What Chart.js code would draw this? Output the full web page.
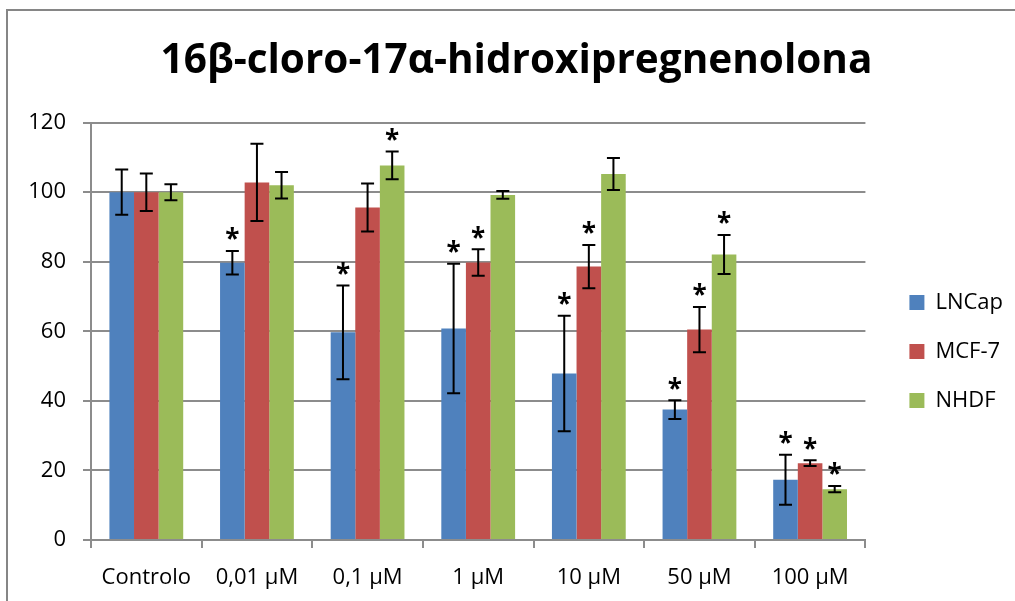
<!DOCTYPE html>
<html lang="es">
<head>
    <meta charset="UTF-8">
    <title>16β-cloro-17α-hidroxipregnenolona</title>
    <script src="https://cdn.jsdelivr.net/npm/chart.js"></script>
    <style>
        html, body {
            margin: 0;
            background: #fff;
            overflow: hidden;
        }

        canvas {
            display: block;
        }
    </style>
</head>
<body>

    <canvas id="grafico" width="1015" height="601"></canvas>

    <script>
        const categorias = ['Controlo', '0,01 µM', '0,1 µM', '1 µM', '10 µM', '50 µM', '100 µM'];

        const lncap = [100, 79.7, 59.7, 60.8, 47.9, 37.5, 17.3];
        const lncapErr = [6.5, 3.4, 13.5, 18.6, 16.6, 2.7, 7.2];
        const lncapSig = [0, 1, 1, 1, 1, 1, 1];

        const mcf7 = [100, 102.8, 95.6, 79.8, 78.6, 60.5, 22.1];
        const mcf7Err = [5.4, 11.1, 6.9, 3.8, 6.2, 6.5, 0.8];
        const mcf7Sig = [0, 0, 0, 1, 1, 1, 1];

        const nhdf = [100, 102.0, 107.7, 99.2, 105.2, 82.1, 14.6];
        const nhdfErr = [2.3, 3.8, 4.0, 1.1, 4.6, 5.6, 0.9];
        const nhdfSig = [0, 0, 1, 0, 0, 1, 1];

        const yTicks = [0, 20, 40, 60, 80, 100, 120];

        const errores = [lncapErr, mcf7Err, nhdfErr];
        const signif = [lncapSig, mcf7Sig, nhdfSig];

        const fuente = "'Open Sans', sans-serif";
        const gris = '#8c8c8c';

        // marco exterior (solo borde superior e izquierdo se ven)
        const marco = {
            id: 'marco',
            beforeDraw(chart) {
                const ctx = chart.ctx;
                ctx.save();
                ctx.fillStyle = '#868686';
                ctx.fillRect(6, 9, chart.width - 6, 2);
                ctx.fillRect(6, 9, 2, chart.height - 9);
                ctx.restore();
            }
        };

        // barras de error y asteriscos
        const errorBars = {
            id: 'errorBars',
            afterDatasetsDraw(chart) {
                const ctx = chart.ctx;
                const y = chart.scales.y;
                ctx.save();
                ctx.strokeStyle = '#000';
                ctx.fillStyle = '#000';
                ctx.lineWidth = 2;
                ctx.font = "bold 26px " + fuente;
                ctx.textAlign = 'center';
                ctx.textBaseline = 'middle';
                chart.data.datasets.forEach((ds, i) => {
                    chart.getDatasetMeta(i).data.forEach((bar, j) => {
                        const v = ds.data[j];
                        const e = errores[i][j];
                        const top = y.getPixelForValue(v + e);
                        const bot = y.getPixelForValue(v - e);
                        ctx.beginPath();
                        ctx.moveTo(bar.x, top);
                        ctx.lineTo(bar.x, bot);
                        ctx.moveTo(bar.x - 6.5, top);
                        ctx.lineTo(bar.x + 6.5, top);
                        ctx.moveTo(bar.x - 6.5, bot);
                        ctx.lineTo(bar.x + 6.5, bot);
                        ctx.stroke();
                        if (signif[i][j]) {
                            ctx.fillText('*', bar.x, top - 10);
                        }
                    });
                });
                ctx.restore();
            }
        };

        // colocar leyenda y título
        const colocar = {
            id: 'colocar',
            afterLayout(chart) {
                const lg = chart.legend;
                lg.left += 17;
                lg.right += 17;
                lg.top += 46;
                lg.bottom += 46;
                const t = chart.titleBlock;
                t.left += 11;
                t.right += 11;
            }
        };

        new Chart(grafico, {
            type: 'bar',
            data: {
                labels: categorias,
                datasets: [
                    { label: 'LNCap', data: lncap, backgroundColor: '#4F81BD' },
                    { label: 'MCF-7', data: mcf7, backgroundColor: '#C0504D' },
                    { label: 'NHDF', data: nhdf, backgroundColor: '#9BBB59' }
                ]
            },
            options: {
                responsive: false,
                animation: false,
                layout: {
                    padding: { left: 15, right: 19, top: 10, bottom: 0 }
                },
                datasets: {
                    bar: {
                        categoryPercentage: 0.667,
                        barPercentage: 1
                    }
                },
                plugins: {
                    title: {
                        display: true,
                        text: '16β-cloro-17α-hidroxipregnenolona',
                        color: '#000',
                        font: { family: fuente, size: 40.5, weight: 'bold' },
                        padding: { top: 27, bottom: 37 }
                    },
                    legend: {
                        position: 'right',
                        labels: {
                            boxWidth: 15,
                            boxHeight: 15,
                            padding: 27,
                            color: '#000',
                            font: { family: fuente, size: 22 }
                        }
                    },
                    tooltip: { enabled: false }
                },
                scales: {
                    x: {
                        afterFit: s => { s.height = 61; },
                        grid: {
                            drawOnChartArea: false,
                            drawTicks: true,
                            tickLength: 8,
                            color: gris,
                            lineWidth: 2
                        },
                        border: { color: gris, width: 2 },
                        ticks: {
                            color: '#000',
                            padding: 17,
                            maxRotation: 0,
                            font: { family: fuente, size: 22 }
                        }
                    },
                    y: {
                        min: 0,
                        max: 120,
                        afterFit: s => { s.width = 76; },
                        afterBuildTicks: s => { s.ticks = yTicks.map(v => ({ value: v })); },
                        grid: {
                            tickLength: 8,
                            color: gris,
                            lineWidth: 2
                        },
                        border: { color: gris, width: 2 },
                        ticks: {
                            color: '#000',
                            padding: 17,
                            font: { family: fuente, size: 22 }
                        }
                    }
                }
            },
            plugins: [marco, errorBars, colocar]
        });
    </script>

</body>
</html>
